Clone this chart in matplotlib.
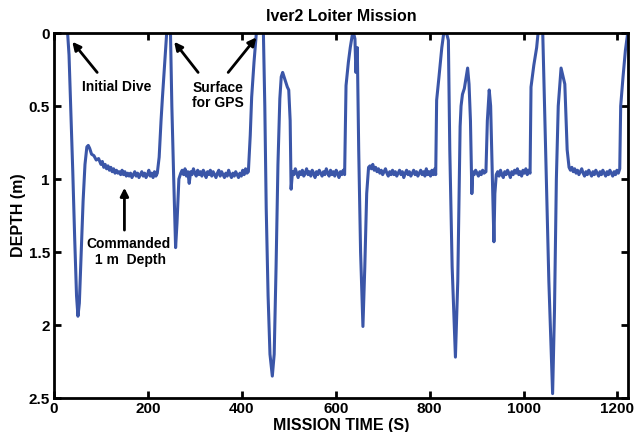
import matplotlib
matplotlib.use("Agg")
import matplotlib.pyplot as plt

plt.rcParams['font.family'] = ['Liberation Sans', 'DejaVu Sans']
plt.rcParams['font.weight'] = 'bold'

title = "Iver2 Loiter Mission"
xlabel = "MISSION TIME (S)"
ylabel = "DEPTH (m)"
xticks = [0, 200, 400, 600, 800, 1000, 1200]
yticks = [0, 0.5, 1, 1.5, 2, 2.5]
ytick_labels = ["0", "0.5", "1", "1.5", "2", "2.5"]

# mission time (s) -- one line per segment, matching depth_m line by line
time_s = [
    28, 32, 36, 40, 44, 48, 51, 54, 58, 62, 66, 70, 73, 76, 80, 85, 90, 95,
    100, 103, 106, 109, 112, 115, 118, 121, 124, 127, 130, 133, 136, 139, 142, 145, 148, 151, 154, 157,
    160, 163, 166, 169, 172, 175, 178, 181, 184, 187, 190, 193, 196, 199, 202, 205, 208, 211, 214, 217, 220,
    224, 228, 231, 236, 240, 243, 248, 251, 255, 259, 262, 266, 270,
    273, 276, 279, 282, 285, 288, 291, 294, 297, 300, 303, 306, 309, 312, 315, 318, 321, 324, 327, 330,
    333, 336, 339, 342, 345, 348, 351, 354, 357, 360, 363, 366, 369, 372, 375, 378, 381, 384, 387, 390,
    393, 396, 399, 402, 405, 408, 411, 414,
    418, 421, 426, 431, 434, 440, 446, 449, 452, 456, 460, 465, 469, 473, 477,
    481, 484, 487, 492, 497, 500, 503, 505,
    508, 511, 514, 517, 520, 523, 526, 529, 532, 535, 538, 541, 544, 547, 550, 553, 556, 559, 562, 565,
    568, 571, 574, 577, 580, 583, 586, 589, 592, 595, 598, 601, 604, 607, 610, 613, 616, 619,
    622, 627, 631, 635, 638, 641, 643, 646, 649, 653, 658, 662, 666, 670,
    673, 676, 679, 682, 685, 688, 691, 694, 697, 700, 703, 706, 709, 712, 715, 718, 721, 724, 727, 730,
    733, 736, 739, 742, 745, 748, 751, 754, 757, 760, 763, 766, 769, 772, 775, 778, 781, 784, 787, 790,
    793, 796, 799, 802, 805, 808, 811, 813,
    815, 820, 826, 831, 836, 840, 843, 848, 855, 860, 865, 867, 870, 874, 878,
    881, 884, 887, 890, 892,
    895, 898, 901, 904, 907, 910, 913, 916, 920,
    923, 927, 930, 933, 937, 939, 942,
    945, 948, 951, 954, 957, 960, 963, 966, 969, 972, 975, 978, 981, 984, 987, 990, 993, 996, 999, 1002,
    1005, 1008, 1011, 1014,
    1016, 1022, 1028, 1031, 1035, 1041, 1048, 1054, 1062, 1066, 1070, 1074,
    1080, 1088, 1093, 1097,
    1100, 1103, 1106, 1109, 1112, 1115, 1118, 1121, 1124, 1127, 1130, 1133, 1136, 1139, 1142, 1145,
    1148, 1151, 1154, 1157, 1160, 1163, 1166, 1169, 1172, 1175, 1178, 1181, 1184, 1187, 1190, 1193,
    1196, 1199, 1202, 1205,
    1207, 1212, 1217, 1224,
]

# depth (m)
depth_m = [
    -0.05, 0.15, 0.55, 0.95, 1.4, 1.8, 1.94, 1.85, 1.5, 1.15, 0.9, 0.78, 0.77, 0.79, 0.83, 0.84, 0.87, 0.86,
    0.90, 0.88, 0.92, 0.90, 0.93, 0.91, 0.94, 0.92, 0.95, 0.93, 0.96, 0.94, 0.96, 0.95, 0.97, 0.94, 0.97, 0.95, 0.98, 0.96,
    0.98, 0.96, 0.99, 0.97, 0.95, 0.98, 0.96, 0.99, 0.97, 0.95, 0.98, 0.96, 0.99, 0.97, 0.94, 0.98, 0.96, 0.99, 0.95, 0.98, 0.96,
    0.85, 0.6, 0.44, 0.2, 0.0, -0.05, -0.02, 0.5, 1.0, 1.47, 1.3, 1.0, 0.96,
    0.94, 0.97, 0.93, 0.98, 0.95, 1.03, 0.95, 0.97, 0.93, 0.96, 0.98, 0.94, 0.97, 0.95, 0.98, 0.94, 0.96, 0.99, 0.95, 0.97,
    0.94, 0.98, 0.95, 0.97, 0.99, 0.96, 0.94, 0.98, 0.95, 0.97, 0.99, 0.96, 0.98, 0.94, 0.97, 0.99, 0.96, 0.98, 0.95, 0.97,
    0.99, 0.96, 0.98, 0.94, 0.97, 0.93, 0.96, 0.95,
    0.7, 0.44, 0.2, 0.0, -0.05, -0.05, 0.0, 0.5, 1.2, 1.8, 2.2, 2.35, 2.2, 1.6, 0.9,
    0.45, 0.3, 0.27, 0.32, 0.37, 0.39, 0.6, 1.07,
    0.95, 0.97, 0.93, 0.96, 0.99, 0.95, 0.97, 0.94, 0.98, 0.96, 0.93, 0.97, 0.95, 0.98, 0.94, 0.96, 0.99, 0.95, 0.97, 0.94,
    0.96, 0.98, 0.95, 0.97, 0.93, 0.96, 0.98, 0.94, 0.97, 0.95, 0.98, 0.94, 0.96, 0.99, 0.95, 0.97, 0.94, 0.97,
    0.36, 0.2, 0.1, 0.02, 0.0, 0.04, 0.27, 0.1, 0.8, 1.5, 2.01, 1.6, 1.1, 0.92,
    0.91, 0.93, 0.90, 0.94, 0.92, 0.95, 0.93, 0.96, 0.94, 0.97, 0.95, 0.93, 0.96, 0.98, 0.95, 0.97, 0.94, 0.97, 0.95, 0.98,
    0.96, 0.94, 0.97, 0.95, 0.99, 0.96, 0.94, 0.97, 0.95, 0.98, 0.96, 0.94, 0.97, 0.95, 0.98, 0.96, 0.94, 0.97, 0.95, 0.98,
    0.93, 0.97, 0.95, 0.98, 0.94, 0.97, 0.93, 0.97,
    0.46, 0.3, 0.1, -0.02, 0.0, 0.05, 0.8, 1.6, 2.22, 1.7, 0.64, 0.5, 0.42, 0.38, 0.3,
    0.24, 0.35, 0.6, 1.1, 0.95,
    0.97, 0.94, 0.96, 0.98, 0.95, 0.97, 0.94, 0.96, 0.95,
    0.6, 0.39, 0.5, 0.9, 1.43, 1.1, 0.97,
    0.95, 0.98, 0.94, 0.97, 0.99, 0.95, 0.97, 0.94, 0.96, 0.99, 0.95, 0.97, 0.94, 0.96, 0.93, 0.97, 0.95, 0.98, 0.94, 0.96,
    0.93, 0.97, 0.94, 0.96,
    0.37, 0.22, 0.1, 0.0, -0.03, 0.0, 0.9, 1.7, 2.47, 1.9, 1.0, 0.5,
    0.24, 0.35, 0.8, 0.92,
    0.94, 0.92, 0.95, 0.93, 0.96, 0.94, 0.97, 0.95, 0.93, 0.96, 0.98, 0.95, 0.97, 0.94, 0.96, 0.98,
    0.95, 0.97, 0.94, 0.96, 0.98, 0.95, 0.97, 0.94, 0.96, 0.98, 0.95, 0.97, 0.94, 0.96, 0.98, 0.95,
    0.97, 0.94, 0.96, 0.93,
    0.5, 0.3, 0.12, -0.05,
]

fig = plt.figure(figsize=(6.36, 4.32), dpi=100)
ax = fig.add_axes([0.0849, 0.0787, 0.9021, 0.8449])
ax.plot(time_s, depth_m, color='#3B56A8', lw=2.2, solid_joinstyle='round')

ax.set_xlim(0, 1222)
ax.set_ylim(2.5, 0)
ax.set_xticks(xticks)
ax.set_yticks(yticks)
ax.set_yticklabels(ytick_labels)
ax.tick_params(direction='in', top=True, right=True, length=5, width=2,
               labelsize=11, pad=3)
for lab in ax.get_xticklabels() + ax.get_yticklabels():
    lab.set_fontweight('bold')
for sp in ax.spines.values():
    sp.set_linewidth(2)

ax.set_title(title, fontsize=11.5, fontweight='bold', pad=8.5)
ax.set_xlabel(xlabel, fontsize=11.5, fontweight='bold', labelpad=1)
ax.set_ylabel(ylabel, fontsize=11.5, fontweight='bold', labelpad=2)

arrow = dict(arrowstyle='-|>', color='black', lw=2, mutation_scale=12, shrinkA=0, shrinkB=0)
ax.annotate('', xy=(39, 0.06), xytext=(92, 0.27), arrowprops=arrow)
ax.text(133, 0.37, 'Initial Dive', ha='center', va='center', fontsize=10, fontweight='bold')
ax.annotate('', xy=(256, 0.06), xytext=(307, 0.27), arrowprops=arrow)
ax.annotate('', xy=(431, 0.03), xytext=(371, 0.27), arrowprops=arrow)
ax.text(350, 0.43, 'Surface\nfor GPS', ha='center', va='center', fontsize=10,
        fontweight='bold', linespacing=1.1)
ax.annotate('', xy=(150, 1.06), xytext=(150, 1.35), arrowprops=arrow)
ax.text(158, 1.50, 'Commanded\n 1 m  Depth', ha='center', va='center', fontsize=10,
        fontweight='bold', linespacing=1.1)

fig.savefig('out.png', dpi=100)
